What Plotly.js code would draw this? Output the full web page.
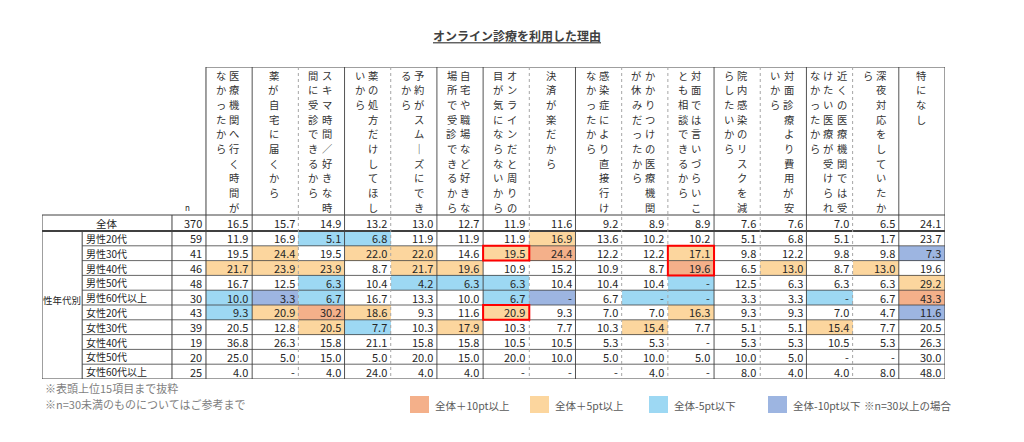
<!DOCTYPE html>
<html><head><meta charset="utf-8">
<script src="https://cdn.plot.ly/plotly-3.0.1.min.js"></script>
<style>html,body{margin:0;padding:0;background:#fff}#chart{width:1024px;height:442px}</style>
</head><body><div id="chart"></div>
<script>
// ---------------- DATA ----------------
const chartTitle = "オンライン診療を利用した理由";
const reasons = [
  "医療機関へ行く時間がなかったから",
  "薬が自宅に届くから",
  "スキマ時間／好きな時間に受診できるから",
  "薬の処方だけしてほしいから",
  "予約がスムーズにできるから",
  "自宅や職場など好きな場所で受診できるから",
  "オンラインだと周りの目が気にならないから",
  "決済が楽だから",
  "感染症により直接行けなかったから",
  "かかりつけの医療機関が休みだったから",
  "対面では言いづらいことも相談できるから",
  "院内感染のリスクを減らしたいから",
  "対面診療より費用が安いから",
  "近くの医療機関では受けたい医療が受けられなかったから",
  "深夜対応をしていたから",
  "特になし"
];
const totalLabel = "全体";
const totalN = 370;
const totalValues = [16.5,15.7,14.9,13.2,13.0,12.7,11.9,11.6,9.2,8.9,8.9,7.6,7.6,7.0,6.5,24.1];
const groupLabel = "性年代別";
const segments = ["男性20代","男性30代","男性40代","男性50代","男性60代以上","女性20代","女性30代","女性40代","女性50代","女性60代以上"];
const segmentN = [59,41,46,48,30,43,39,19,20,25];
// 0 = "-"
const vM20 = [11.9,16.9,5.1,6.8,11.9,11.9,11.9,16.9,13.6,10.2,10.2,5.1,6.8,5.1,1.7,23.7];
const vM30 = [19.5,24.4,19.5,22.0,22.0,14.6,19.5,24.4,12.2,12.2,17.1,9.8,12.2,9.8,9.8,7.3];
const vM40 = [21.7,23.9,23.9,8.7,21.7,19.6,10.9,15.2,10.9,8.7,19.6,6.5,13.0,8.7,13.0,19.6];
const vM50 = [16.7,12.5,6.3,10.4,4.2,6.3,6.3,10.4,10.4,10.4,0,12.5,6.3,6.3,6.3,29.2];
const vM60 = [10.0,3.3,6.7,16.7,13.3,10.0,6.7,0,6.7,0,0,3.3,3.3,0,6.7,43.3];
const vF20 = [9.3,20.9,30.2,18.6,9.3,11.6,20.9,9.3,7.0,7.0,16.3,9.3,9.3,7.0,4.7,11.6];
const vF30 = [20.5,12.8,20.5,7.7,10.3,17.9,10.3,7.7,10.3,15.4,7.7,5.1,5.1,15.4,7.7,20.5];
const vF40 = [36.8,26.3,15.8,21.1,15.8,15.8,10.5,10.5,5.3,5.3,0,5.3,5.3,10.5,5.3,26.3];
const vF50 = [25.0,5.0,15.0,5.0,20.0,15.0,20.0,10.0,5.0,10.0,5.0,10.0,5.0,0,0,30.0];
const vF60 = [4.0,0,4.0,24.0,4.0,4.0,0,0,0,4.0,0,8.0,4.0,4.0,8.0,48.0];
const highlightReasons = ["オンラインだと周りの目が気にならないから","オンラインだと周りの目が気にならないから","対面では言いづらいことも相談できるから"];
const highlightSegs = [["男性30代"],["女性20代"],["男性30代","男性40代"]];
const legendLabels = ["全体＋10pt以上","全体＋5pt以上","全体-5pt以下","全体-10pt以下"];
const legendNote = "※n=30以上の場合";
const footnotes = ["※表頭上位15項目まで抜粋","※n=30未満のものについてはご参考まで"];
const minN = 30;

// ---------------- BUILD ----------------
const segValues = [vM20,vM30,vM40,vM50,vM60,vF20,vF30,vF40,vF50,vF60];
const colors = ["#ffffff","#F4B08A","#FCD69E","#9DD8F3","#9DB5E1"];
const JP = "Noto Sans CJK JP, Noto Sans, sans-serif";
const txt = "#262626";

const HEAD_TOP = -10.581, TOT_TOP = -0.581;
const X_LEFT = -4.05, X_GRP = -3.18, X_N = -1.236, X_D = -0.5, X_RIGHT = 15.5;
const paperX = px => (px - 42) / 903;
const paperY = py => (379 - py) / 312;

function cls(v, base, n){
  if (n < minN) return 0;
  const d = v - base;
  if (d >= 10 - 1e-9) return 1;
  if (d >= 5 - 1e-9) return 2;
  if (d <= -10 + 1e-9) return 4;
  if (d <= -5 + 1e-9) return 3;
  return 0;
}
const z = segValues.map((row,i)=>row.map((v,j)=>cls(v,totalValues[j],segmentN[i])));
const colIdx = reasons.map((_,j)=>j);
const rowIdx = segments.map((_,i)=>i+1);

const cs = [[0,colors[0]],[0.125,colors[0]],[0.125,colors[1]],[0.375,colors[1]],[0.375,colors[2]],[0.625,colors[2]],[0.625,colors[3]],[0.875,colors[3]],[0.875,colors[4]],[1,colors[4]]];
const heat = {type:"heatmap", x:colIdx, y:rowIdx, z:z, zmin:0, zmax:4, colorscale:cs, showscale:false, hoverinfo:"skip", xgap:0, ygap:0};

const ann = [];
const fmt = v => v === 0 ? "-" : v.toFixed(1);
const NUMF = {family:JP,size:11,color:txt};
// total row
const yTot = (TOT_TOP + 0.5)/2;
ann.push({x:(X_LEFT+X_N)/2, y:yTot, text:totalLabel, showarrow:false, xanchor:"center", yanchor:"middle", font:{family:JP,size:10.5,color:txt}});
ann.push({x:X_D-0.05, y:yTot, text:String(totalN), showarrow:false, xanchor:"right", yanchor:"middle", font:NUMF});
totalValues.forEach((v,j)=>ann.push({x:j+0.46, y:yTot, text:fmt(v), showarrow:false, xanchor:"right", yanchor:"middle", font:NUMF}));
// group label
ann.push({x:(X_LEFT+X_GRP)/2, y:5.16, text:groupLabel, showarrow:false, xanchor:"center", yanchor:"middle", font:{family:JP,size:9.5,color:txt}});
segments.forEach((s,i)=>{
  const y = i+1;
  ann.push({x:X_GRP+0.04, y:y, text:s, showarrow:false, xanchor:"left", yanchor:"middle", font:{family:JP,size:10,color:txt}});
  ann.push({x:X_D-0.05, y:y, text:String(segmentN[i]), showarrow:false, xanchor:"right", yanchor:"middle", font:NUMF});
  segValues[i].forEach((v,j)=>ann.push({x:j+0.46, y:y, text:fmt(v), showarrow:false, xanchor:"right", yanchor:"middle", font:NUMF}));
});
// n label
ann.push({x:-0.91, y:-1.12, text:"n", showarrow:false, xanchor:"center", yanchor:"middle", font:{family:JP,size:8,color:txt}});
// vertical headers: one annotation per character
const CH = 10, SP = 0.29, CY0 = HEAD_TOP + 8/14.8, CDY = 14.7/14.8;
reasons.forEach((r,j)=>{
  const chars = Array.from(r.replace(/ー/g,"｜"));
  const nChunks = Math.ceil(chars.length/CH);
  chars.forEach((c,idx)=>{
    const k = Math.floor(idx/CH), i = idx % CH;
    const x = j - 0.03 + ((nChunks-1)/2 - k)*SP;
    ann.push({x:x, y:CY0 + i*CDY, text:c, showarrow:false, xanchor:"center", yanchor:"middle",
      font:{family:JP,size:10.3,color:"#333333"}});
  });
});
// footnotes
footnotes.forEach((f,i)=>ann.push({xref:"paper",yref:"paper",x:paperX(43),y:paperY(388+16*i),text:f,showarrow:false,xanchor:"left",yanchor:"middle",font:{family:JP,size:11,color:"#7f7f7f"}}));
// legend
const legX = [410,530,649,768];
const shapes = [];
legendLabels.forEach((l,i)=>{
  shapes.push({type:"rect",xref:"paper",yref:"paper",x0:paperX(legX[i]),x1:paperX(legX[i]+19),y0:paperY(413),y1:paperY(396),fillcolor:colors[i+1],line:{width:0}});
  ann.push({xref:"paper",yref:"paper",x:paperX(legX[i]+23),y:paperY(405),text:l,showarrow:false,xanchor:"left",yanchor:"middle",font:{family:JP,size:10.5,color:"#595959"}});
});
ann.push({xref:"paper",yref:"paper",x:paperX(862),y:paperY(405),text:legendNote,showarrow:false,xanchor:"left",yanchor:"middle",font:{family:JP,size:10.5,color:"#595959"}});

// grid lines
const dark = "#404040", dot = "#a6a6a6";
function L(x0,y0,x1,y1,color,width,dash){shapes.push({type:"line",xref:"x",yref:"y",x0,y0,x1,y1,line:{color,width,dash:dash||"solid"},layer:"above"});}
L(X_D,HEAD_TOP,X_RIGHT,HEAD_TOP,dark,1);
L(X_LEFT,TOT_TOP,X_RIGHT,TOT_TOP,dark,1);
L(X_LEFT,0.5,X_RIGHT,0.5,dark,2);
for (let i=1;i<segments.length;i++) L(X_GRP,i+0.5,X_RIGHT,i+0.5,dark,0.8);
L(X_LEFT,segments.length+0.5,X_RIGHT,segments.length+0.5,dark,1);
L(X_LEFT,TOT_TOP,X_LEFT,segments.length+0.5,dark,1);
L(X_GRP,0.5,X_GRP,segments.length+0.5,dark,1);
L(X_N,TOT_TOP,X_N,segments.length+0.5,dark,1);
L(X_D,HEAD_TOP,X_D,segments.length+0.5,dark,1);
L(X_RIGHT,HEAD_TOP,X_RIGHT,segments.length+0.5,dark,1);
const solidB = [0,2,4,5,7,10,12,14];
for (let j=0;j<reasons.length-1;j++){
  if (solidB.indexOf(j)>=0) L(j+0.5,HEAD_TOP,j+0.5,segments.length+0.5,dark,0.9);
  else L(j+0.5,HEAD_TOP,j+0.5,segments.length+0.5,dot,1,"dot");
}
// highlight boxes
highlightReasons.forEach((r,k)=>{
  const j = reasons.indexOf(r);
  const rows = highlightSegs[k].map(s=>segments.indexOf(s)+1);
  shapes.push({type:"rect",xref:"x",yref:"y",x0:j-0.5,x1:j+0.5,y0:Math.min(...rows)-0.5,y1:Math.max(...rows)+0.5,line:{color:"#ff0000",width:2},fillcolor:"rgba(0,0,0,0)",layer:"above"});
});

const layout = {
  width:1024, height:442,
  margin:{l:42,r:79,t:67,b:63,pad:0},
  paper_bgcolor:"#fff", plot_bgcolor:"#fff",
  showlegend:false,
  title:{text:chartTitle, x:517/1024, xref:"container", xanchor:"center", y:1-37/442, yref:"container", yanchor:"middle",
    font:{family:JP,size:12,color:"#404040",weight:"bold",lineposition:"under"}},
  xaxis:{range:[X_LEFT,X_RIGHT],visible:false,fixedrange:true},
  yaxis:{range:[segments.length+0.5,HEAD_TOP],visible:false,fixedrange:true},
  annotations:ann, shapes:shapes
};
Plotly.newPlot("chart",[heat],layout,{staticPlot:true,displayModeBar:false});
</script></body></html>
